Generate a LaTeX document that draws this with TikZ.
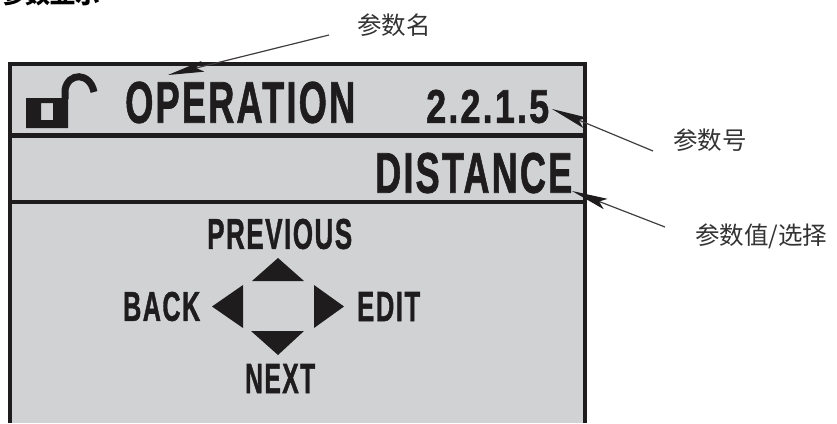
\documentclass[tikz,border=0pt]{standalone}
\usepackage{fontspec}
\usepackage{graphicx}
\setmainfont{Liberation Sans}
\newfontfamily\lcdfont[LetterSpace=6,FakeBold=1.4]{Liberation Sans Bold}
\newfontfamily\cjk{Noto Sans CJK SC}
\usetikzlibrary{arrows.meta}
\definecolor{panel}{HTML}{D0D2D4}
\definecolor{ink}{HTML}{1E1C1D}
\newcommand{\lcd}[3]{\resizebox{#1pt}{#2pt}{\lcdfont #3}}
\tikzset{
  frameline/.style={draw=ink,line width=3.5pt},
  lcdtext/.style={inner sep=0pt,text=ink,anchor=west},
  note/.style={inner sep=0pt,anchor=west,font=\cjk\fontsize{24.5}{25}\selectfont,text=black!80},
  pointer/.style={draw=ink!85,line width=1.2pt,-{Stealth[length=36pt,width=11pt,inset=7pt,color=ink]}},
  navhead/.style={fill=ink,draw=none}
}
\begin{document}
\begin{tikzpicture}[x=1pt,y=-1pt]
\useasboundingbox (0,0) rectangle (837,423);
\clip (0,0) rectangle (837,423);
% panel
\fill[panel] (10,64) rectangle (585,423);
\draw[frameline] (10,423) -- (10,64) -- (585,64) -- (585,423);
\draw[frameline,line width=5pt] (10,135) -- (585,135);
\draw[frameline,line width=4pt] (10,202) -- (585,202);
% lock
\fill[ink,even odd rule] (26,98) rectangle (68,128) (41,103) rectangle (53,120);
\draw[ink,line width=7pt] (65,99) -- (65,90) .. controls (68,72) and (90,72) .. (94,92);
% texts
\node[lcdtext] (op) at (125,102.5) {\lcd{230}{41}{OPERATION}};
\node[lcdtext] (num) at (426,106.5) {\lcd{123}{33}{2.2.1.5}};
\node[lcdtext] (dist) at (375,173) {\lcd{197}{40}{DISTANCE}};
\node[lcdtext] (prev) at (207,234) {\lcd{145}{30}{PREVIOUS}};
\node[lcdtext] (back) at (123,306.5) {\lcd{77}{29}{BACK}};
\node[lcdtext] (edit) at (357,306.5) {\lcd{63}{29}{EDIT}};
\node[lcdtext] (next) at (245,378.5) {\lcd{70}{29}{NEXT}};
% nav triangles
\fill[navhead] (278,258) -- (304,281) -- (252,281) -- cycle;
\fill[navhead] (212,306.5) -- (243,285) -- (243,328) -- cycle;
\fill[navhead] (344,306.5) -- (314,285) -- (314,328) -- cycle;
\fill[navhead] (278,355) -- (304,331) -- (251,331) -- cycle;
% labels
\node[anchor=west,inner sep=0pt,font=\cjk\fontsize{25}{25}\selectfont\bfseries,text=black] (title) at (0,-6) {参数显示};
\node[note] (lname) at (357,25) {参数名};
\node[note] (lnum) at (673,140) {参数号};
\node[note] (lval) at (695,236) {参数值/选择};
% pointers
\coordinate (tipname) at (168,75);
\coordinate (tipnum) at (552,109);
\coordinate (tipval) at (572,191);
\coordinate (tailname) at (329,35);
\coordinate (tailnum) at (653,151);
\coordinate (tailval) at (665,227);
\draw[pointer] (tailname) -- (tipname);
\draw[pointer] (tailnum) -- (tipnum);
\draw[pointer] (tailval) -- (tipval);
\end{tikzpicture}
\end{document}
